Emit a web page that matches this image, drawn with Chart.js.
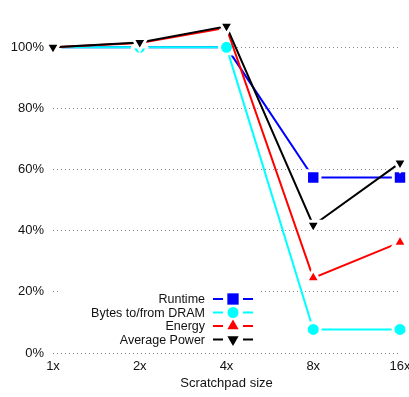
<!DOCTYPE html>
<html>
<head>
<meta charset="utf-8">
<script src="https://cdn.jsdelivr.net/npm/chart.js@4"></script>
<style>
  body { margin: 0; background: #fff; }
  #wrap { width: 409px; height: 397px; }
</style>
</head>
<body>
<div id="wrap"><canvas id="grafica"></canvas></div>
<script>
// datos
const categorias = ['1x', '2x', '4x', '8x', '16x'];
const runtime = [100, 100, 100, 57.4, 57.4];
const bytesDram = [100, 100, 100, 7.7, 7.7];
const energia = [100, 101.4, 106.4, 24.6, 36.2];
const potencia = [100, 101.6, 106.9, 41.8, 62.2];
const ticksY = [0, 20, 40, 60, 80, 100];

const fuente = '"Liberation Sans", Arial, sans-serif';

// leyenda dibujada a mano dentro del area del grafico
const leyendaPlugin = {
  id: 'leyendaDentro',
  afterDatasetsDraw(chart) {
    const ctx = chart.ctx;
    ctx.save();
    ctx.fillStyle = '#fff';
    ctx.fillRect(60, 289, 200, 58);
    ctx.font = '12.5px ' + fuente;
    ctx.textAlign = 'right';
    ctx.textBaseline = 'middle';
    chart.data.datasets.forEach((ds, i) => {
      const y = 299 + i * 13.5;
      ctx.fillStyle = '#111';
      ctx.fillText(ds.label, 205, y + 1);
      ctx.strokeStyle = ds.borderColor;
      ctx.lineWidth = 2;
      ctx.beginPath();
      ctx.moveTo(213, y); ctx.lineTo(223, y);
      ctx.moveTo(243, y); ctx.lineTo(253, y);
      ctx.stroke();
      ctx.fillStyle = ds.borderColor;
      Chart.helpers.drawPoint(ctx, {
        pointStyle: ds.pointStyle,
        radius: ds.pointRadius - 1.5,
        rotation: ds.pointRotation || 0,
        borderWidth: 0
      }, 233, y);
    });
    ctx.restore();
  }
};

function serie(label, data, color, estilo, radio, rot, orden) {
  return {
    label: label,
    data: data,
    borderColor: color,
    backgroundColor: color,
    borderWidth: 2,
    pointStyle: estilo,
    pointRadius: radio,
    pointRotation: rot,
    pointBackgroundColor: color,
    pointBorderColor: '#fff',
    pointBorderWidth: 3,
    tension: 0,
    clip: false,
    order: orden
  };
}

const ctx = document.getElementById('grafica').getContext('2d');
new Chart(ctx, {
  type: 'line',
  data: {
    labels: categorias,
    datasets: [
      serie('Runtime', runtime, '#0000ff', 'rect', 9.5, 0, 4),
      serie('Bytes to/from DRAM', bytesDram, '#00ffff', 'circle', 7, 0, 3),
      serie('Energy', energia, '#ff0000', 'triangle', 8, 0, 2),
      serie('Average Power', potencia, '#000000', 'triangle', 8, 180, 1)
    ]
  },
  options: {
    responsive: true,
    maintainAspectRatio: false,
    animation: false,
    layout: { autoPadding: false, padding: { top: 15, right: 9, bottom: 0, left: 0 } },
    plugins: {
      legend: { display: false },
      tooltip: { enabled: false }
    },
    scales: {
      x: {
        offset: false,
        grid: { display: false, drawTicks: false },
        border: { display: false },
        ticks: { color: '#111', font: { family: fuente, size: 13 }, padding: 6, maxRotation: 0, autoSkip: false },
        title: { display: true, text: 'Scratchpad size', color: '#111', font: { family: fuente, size: 13 }, padding: { top: 0, bottom: 6 } },
        afterFit(scale) {
          scale.height = 44;
          scale.paddingLeft = 0;
          scale.paddingRight = 0;
        }
      },
      y: {
        min: 0,
        max: 110,
        afterBuildTicks(scale) { scale.ticks = ticksY.map(v => ({ value: v })); },
        grid: { color: '#888', lineWidth: 1, drawTicks: false },
        border: { display: false, dash: [1, 3] },
        ticks: { color: '#111', font: { family: fuente, size: 13 }, padding: 9, callback: v => v + '%' },
        afterFit(scale) { scale.width = 53; }
      }
    }
  },
  plugins: [leyendaPlugin]
});
</script>
</body>
</html>
